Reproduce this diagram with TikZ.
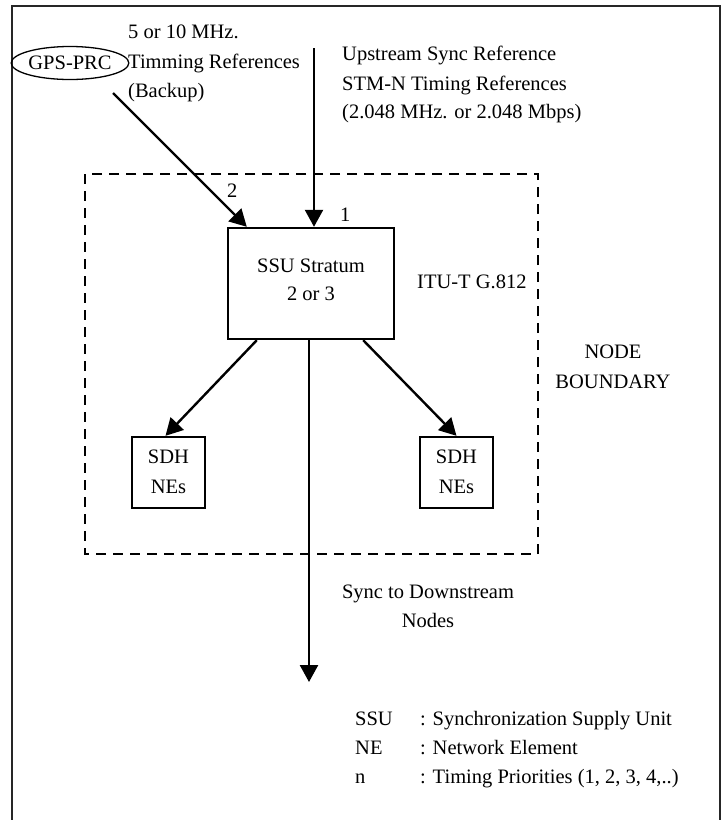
\documentclass[tikz,border=0pt]{standalone}
\usepackage{fontspec}
\setmainfont{Liberation Serif}
\usetikzlibrary{arrows.meta,shapes.geometric}
\begin{document}
\begin{tikzpicture}[x=1pt,y=-1pt,
  txt/.style={inner sep=0pt,font=\fontsize{20.5}{29}\selectfont},
  lbl/.style={txt,anchor=base west},
  clbl/.style={txt,anchor=base},
  boxn/.style={draw,line width=2.4pt,inner sep=0pt},
  arr/.style={line width=2.4pt,-{Triangle[length=17pt,width=18pt]}},
  bound/.style={draw,line width=2.2pt,dash pattern=on 10pt off 7pt}]
\useasboundingbox (0,0) rectangle (728,820);
% outer frame
\draw[line width=1.5pt,black!85] (12,824) -- (12,6) -- (720,6) -- (720,824);
% node boundary
\draw[bound] (85,174) rectangle (538,554);
% GPS-PRC
\node[draw,ellipse,line width=1.3pt,minimum width=109pt,minimum height=33pt,inner sep=0pt,txt] (gps) at (70,63) {GPS-PRC};
\node[lbl] (t1a) at (128,38) {5 or 10 MHz.};
\node[lbl] (t1b) at (128,68) {Timming References};
\node[lbl] (t1c) at (128,97) {(Backup)};
% upstream
\node[lbl] (t2a) at (342,60) {Upstream Sync Reference};
\node[lbl] (t2b) at (342,90) {STM-N Timing References};
\node[lbl] (t2c) at (342,118) {(2.048 MHz. or 2.048 Mbps)};
% SSU box
\node[boxn,minimum width=166pt,minimum height=111pt] (ssu) at (311,283.5) {};
\node[clbl] (ssua) at (311,272) {SSU Stratum};
\node[clbl] (ssub) at (311,300) {2 or 3};
\node[lbl] (itu) at (417,288) {ITU-T G.812};
% SDH boxes
\node[boxn,minimum width=73pt,minimum height=71pt] (sdhL) at (168.5,472.5) {};
\node[clbl] (sdhLa) at (168.5,463) {SDH};
\node[clbl] (sdhLb) at (168.5,493) {NEs};
\node[boxn,minimum width=73pt,minimum height=71pt] (sdhR) at (456.5,472.5) {};
\node[clbl] (sdhRa) at (456.5,463) {SDH};
\node[clbl] (sdhRb) at (456.5,493) {NEs};
% priorities
\node[lbl] (p1) at (340,221) {1};
\node[lbl] (p2) at (227,197) {2};
% node boundary label
\node[clbl] (nba) at (613,358) {NODE};
\node[clbl] (nbb) at (613,388) {BOUNDARY};
% downstream
\node[clbl] (dsa) at (428,598) {Sync to Downstream};
\node[clbl] (dsb) at (428,627) {Nodes};
% legend
\node[lbl] (l1a) at (355,725) {SSU};
\node[lbl] (l1b) at (420,725) {: Synchronization Supply Unit};
\node[lbl] (l2a) at (355,754) {NE};
\node[lbl] (l2b) at (420,754) {: Network Element};
\node[lbl] (l3a) at (355,783) {n};
\node[lbl] (l3b) at (420,783) {: Timing Priorities (1, 2, 3, 4,..)};
% connectors
\coordinate (upin) at (314,48);
\coordinate (gpsout) at (113,93);
\coordinate (down) at (309,682);
\draw[arr] (upin) -- (upin |- ssu.north);
\draw[arr] (gpsout) -- ([xshift=20pt]ssu.north west);
\draw[arr] ([xshift=30pt]ssu.south west) -- ([xshift=-3pt]sdhL.north);
\draw[arr] ([xshift=-32pt]ssu.south east) -- (sdhR.north);
\draw[arr] (down |- ssu.south) -- (down);
\end{tikzpicture}
\end{document}
